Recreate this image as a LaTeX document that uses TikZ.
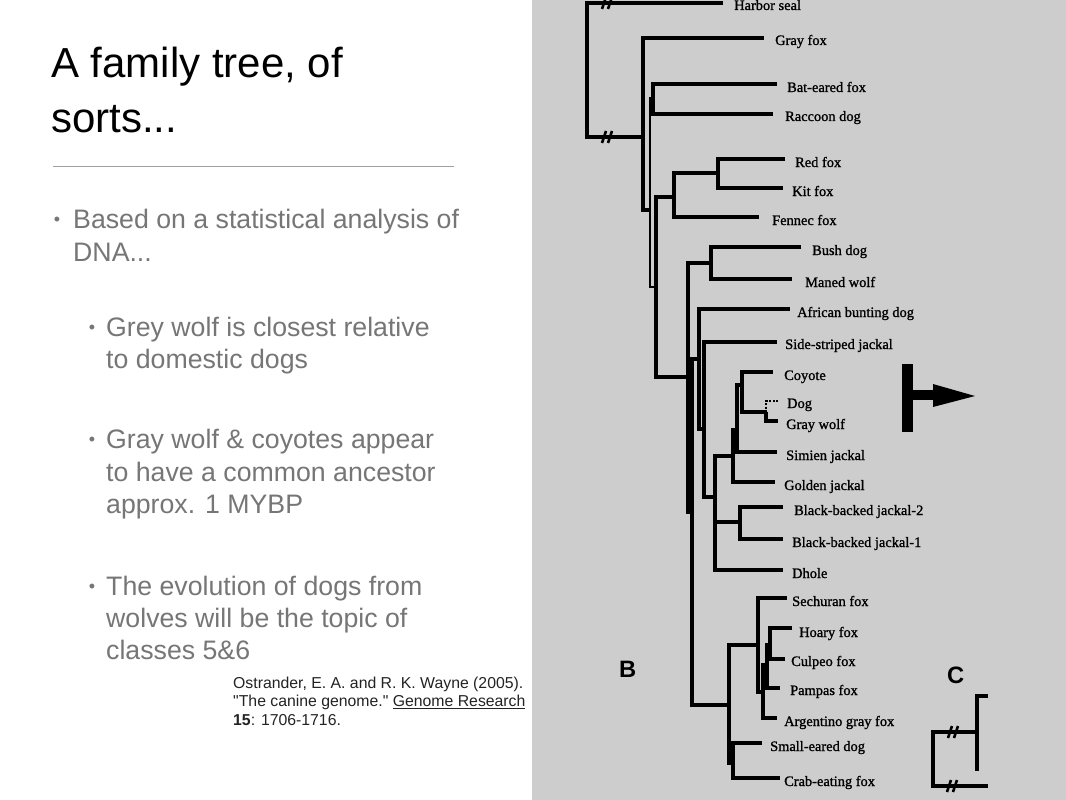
\documentclass[tikz,border=0pt]{standalone}
\usepackage{fontspec}
\setmainfont{Liberation Serif}
\newfontfamily\arialf{Liberation Sans}
\newfontfamily\treefont[FakeBold=1.2]{Liberation Serif}
\definecolor{panel}{RGB}{205,205,205}
\definecolor{bullettxt}{RGB}{118,118,118}
\definecolor{citetxt}{RGB}{35,35,35}
\definecolor{rulegray}{RGB}{160,160,160}
\tikzset{
  leaf/.style={font=\treefont\fontsize{14.4}{16}\selectfont, anchor=base west, inner sep=0pt, text=black},
  br/.style={line width=3.3pt, line join=miter, black},
  thinbr/.style={line width=2pt, black},
  dogdash/.style={line width=1.1pt, dash pattern=on 2pt off 1.5pt, black},
  titletxt/.style={font=\arialf\fontsize{42}{50}\selectfont, anchor=base west, inner sep=0pt, text=black},
  bultxt/.style={font=\arialf\fontsize{26.7}{32}\selectfont, anchor=base west, inner sep=0pt, text=bullettxt},
  bulmark/.style={font=\arialf\fontsize{18}{18}\selectfont, anchor=base, inner sep=0pt, text=bullettxt},
  citetext/.style={font=\arialf\fontsize{15.8}{18}\selectfont, anchor=base west, inner sep=0pt, text=citetxt},
  panellabel/.style={font=\arialf\bfseries\fontsize{23.7}{24}\selectfont, anchor=base west, inner sep=0pt, text=black},
  hashmark/.style={line width=2.6pt, black}
}
\begin{document}
\begin{tikzpicture}[x=1pt,y=-1pt]
\useasboundingbox (0,0) rectangle (1066,800);
\fill[white] (0,0) rectangle (1066,800);
\fill[panel] (532,0) rectangle (1066,800);

% ---------- left text ----------
\node[titletxt] (title1) at (51,77.5) {A family tree, of};
\node[titletxt] (title2) at (51,132) {sorts...};
\coordinate (ruleL) at (53,166);
\coordinate (ruleR) at (454,166);
\draw[rulegray, line width=0.9pt] (ruleL) -- (ruleR);

\node[bulmark] (m1) at (57,225) {•};
\node[bultxt] (b1a) at (73,228) {Based on a statistical analysis of};
\node[bultxt] (b1b) at (73,261) {DNA...};

\node[bulmark] (m2) at (92,333) {•};
\node[bultxt] (b2a) at (106,336) {Grey wolf is closest relative};
\node[bultxt] (b2b) at (106,368) {to domestic dogs};

\node[bulmark] (m3) at (92,445) {•};
\node[bultxt] (b3a) at (106,448) {Gray wolf \& coyotes appear};
\node[bultxt] (b3b) at (106,481) {to have a common ancestor};
\node[bultxt] (b3c) at (106,513) {approx. 1 MYBP};

\node[bulmark] (m4) at (92,592) {•};
\node[bultxt] (b4a) at (106,595) {The evolution of dogs from};
\node[bultxt] (b4b) at (106,627) {wolves will be the topic of};
\node[bultxt] (b4c) at (106,659) {classes 5\&6};

\node[citetext] (c1) at (233,688) {Ostrander, E. A. and R. K. Wayne (2005).};
\node[citetext] (c2) at (233,706.5) {"The canine genome." \underline{Genome Research}};
\node[citetext] (c3) at (233,725) {\bfseries 15\mdseries: 1706-1716.};

% ---------- tree: leaf ends ----------
\coordinate (hs) at (723,3);
\coordinate (gf) at (764,38);
\coordinate (be) at (777,84);
\coordinate (rd) at (773,114);
\coordinate (rf) at (785,159);
\coordinate (kf) at (783,188);
\coordinate (ff) at (759,217);
\coordinate (bd) at (801,247);
\coordinate (mw) at (792,279);
\coordinate (ah) at (790,309);
\coordinate (ss) at (777,342);
\coordinate (co) at (773,372);
\coordinate (dg) at (778,401);
\coordinate (gw) at (778,421);
\coordinate (sj) at (777,452);
\coordinate (gj) at (775,482);
\coordinate (bbB) at (783,507);
\coordinate (bbA) at (783,539);
\coordinate (dh) at (783,570);
\coordinate (se) at (787,598);
\coordinate (ho) at (792,628);
\coordinate (cu) at (785,659);
\coordinate (pa) at (780,688);
\coordinate (ag) at (777,718);
\coordinate (sm) at (762,743);
\coordinate (ce) at (780,778);

% ---------- tree: internal nodes ----------
\coordinate (R) at (587,70);
\coordinate (C) at (643,137);
\coordinate (B) at (650,210);
\coordinate (BR) at (653,98);
\coordinate (A) at (656,287);
\coordinate (V) at (674,197);
\coordinate (RK) at (718,173);
\coordinate (K1) at (688,377);
\coordinate (BM) at (711,263);
\coordinate (N2) at (692,512);
\coordinate (N3) at (699,359);
\coordinate (N4) at (704,429);
\coordinate (N5) at (715,497);
\coordinate (BBJ) at (740,522);
\coordinate (N6) at (733,456);
\coordinate (N7) at (737,430);
\coordinate (N8) at (742,385);
\coordinate (N9) at (766,412);
\coordinate (SA) at (729,705);
\coordinate (SF) at (758,645);
\coordinate (HCP) at (763,692);
\coordinate (HCP2) at (767,665);
\coordinate (HC) at (770,645);
\coordinate (SE) at (733,763);

% ---------- tree: branches ----------
\draw[br] (hs) -| (R) |- (C);
\draw[br] (gf) -| (C) |- (B);
\draw[thinbr] (BR) -| (B) |- (A);
\draw[br] (be) -| (BR) |- (rd);
\draw[br] (V) -| (A) |- (K1);
\draw[br] (RK) -| (V) |- (ff);
\draw[br] (rf) -| (RK) |- (kf);
\draw[br] (BM) -| (K1) |- (N2);
\draw[br] (bd) -| (BM) |- (mw);
\draw[br] (N3) -| (N2) |- (SA);
\draw[br] (ah) -| (N3) |- (N4);
\draw[br] (ss) -| (N4) |- (N5);
\draw[br] (N6) -| (N5) |- (dh);
\draw[br] (N5 |- BBJ) -- (BBJ);
\draw[br] (bbB) -| (BBJ) |- (bbA);
\draw[br] (N7) -| (N6) |- (gj);
\draw[br] (N8) -| (N7) |- (sj);
\draw[br] (co) -| (N8) |- (N9);
\draw[dogdash] (dg) -| (N9);
\draw[br] (N9) |- (gw);
\draw[br] (SF) -| (SA) |- (SE);
\draw[br] (se) -| (SF) |- (HCP);
\draw[br] (HCP2) -| (HCP) |- (ag);
\draw[br] (HC) -| (HCP2) |- (pa);
\draw[br] (ho) -| (HC) |- (cu);
\draw[br] (sm) -| (SE) |- (ce);

% hash marks on the root branches
\coordinate (hashA) at (607,3);
\coordinate (hashB) at (607,137);
\draw[hashmark] ([xshift=-5pt,yshift=-6pt]hashA) -- ([xshift=-1pt,yshift=6pt]hashA)
                ([xshift=1pt,yshift=-6pt]hashA) -- ([xshift=5pt,yshift=6pt]hashA);
\draw[hashmark] ([xshift=-5pt,yshift=-6pt]hashB) -- ([xshift=-1pt,yshift=6pt]hashB)
                ([xshift=1pt,yshift=-6pt]hashB) -- ([xshift=5pt,yshift=6pt]hashB);

% ---------- tree: labels ----------
\node[leaf] (tHs) at (734,10) {Harbor seal};
\node[leaf] (tGf) at (775,45) {Gray fox};
\node[leaf] (tBe) at (787,92) {Bat-eared fox};
\node[leaf] (tRd) at (785,121) {Raccoon dog};
\node[leaf] (tRf) at (795,167) {Red fox};
\node[leaf] (tKf) at (792,196) {Kit fox};
\node[leaf] (tFf) at (772,225) {Fennec fox};
\node[leaf] (tBd) at (812,255) {Bush dog};
\node[leaf] (tMw) at (805,287) {Maned wolf};
\node[leaf] (tAh) at (797,317) {African bunting dog};
\node[leaf] (tSs) at (785,349) {Side-striped jackal};
\node[leaf] (tCo) at (784,380) {Coyote};
\node[leaf] (tDg) at (787,408) {Dog};
\node[leaf] (tGw) at (786,429) {Gray wolf};
\node[leaf] (tSj) at (786,460) {Simien jackal};
\node[leaf] (tGj) at (784,490) {Golden jackal};
\node[leaf] (tBbB) at (794,515) {Black-backed jackal-2};
\node[leaf] (tBbA) at (792,547) {Black-backed jackal-1};
\node[leaf] (tDh) at (792,578) {Dhole};
\node[leaf] (tSe) at (792,606) {Sechuran fox};
\node[leaf] (tHo) at (799,637) {Hoary fox};
\node[leaf] (tCu) at (791,666) {Culpeo fox};
\node[leaf] (tPa) at (790,695) {Pampas fox};
\node[leaf] (tAg) at (784,726) {Argentino gray fox};
\node[leaf] (tSm) at (770,751) {Small-eared dog};
\node[leaf] (tCe) at (784,786) {Crab-eating fox};

% ---------- T arrow ----------
\coordinate (tbarA) at (902,364);
\coordinate (tbarB) at (913,432);
\coordinate (shaftA) at (912,390);
\coordinate (shaftB) at (935,400);
\coordinate (headTop) at (933,384);
\coordinate (headTip) at (975,396);
\coordinate (headBot) at (933,407);
\fill[black] (tbarA) rectangle (tbarB);
\fill[black] (shaftA) rectangle (shaftB);
\fill[black] (headTop) -- (headTip) -- (headBot) -- cycle;

% ---------- panel labels ----------
\node[panellabel] (labB) at (619,677) {B};
\node[panellabel] (labC) at (947,683) {C};

% ---------- panel C fragment ----------
\coordinate (cTop) at (988,696);
\coordinate (cX) at (977,732);
\coordinate (cV) at (977,771);
\coordinate (cRoot) at (933,760);
\coordinate (cBot) at (988,786);
\draw[br] (cTop) -| (cX) -- (cV);
\draw[br] (cX) -| (cRoot) |- (cBot);
\coordinate (hashC) at (953,732);
\coordinate (hashD) at (952,786);
\draw[hashmark] ([xshift=-5pt,yshift=-6pt]hashC) -- ([xshift=-1pt,yshift=6pt]hashC)
                ([xshift=1pt,yshift=-6pt]hashC) -- ([xshift=5pt,yshift=6pt]hashC);
\draw[hashmark] ([xshift=-5pt,yshift=-6pt]hashD) -- ([xshift=-1pt,yshift=6pt]hashD)
                ([xshift=1pt,yshift=-6pt]hashD) -- ([xshift=5pt,yshift=6pt]hashD);
\end{tikzpicture}
\end{document}
